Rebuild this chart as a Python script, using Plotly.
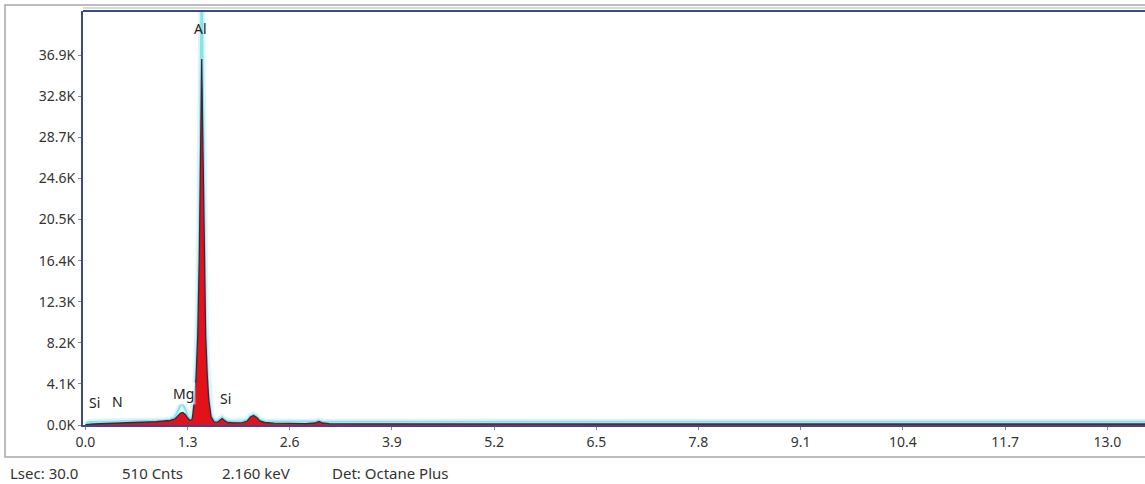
import plotly.graph_objects as go

# ---- data ----
energies = [0.0, 0.03, 0.06, 0.1, 0.2, 0.3, 0.4, 0.5, 0.6, 0.7, 0.8, 0.9, 1.0, 1.08, 1.14, 1.18, 1.21, 1.24, 1.27, 1.30,
            1.33, 1.36, 1.39, 1.41, 1.43, 1.45, 1.465, 1.48, 1.495, 1.51, 1.53, 1.55, 1.57, 1.60, 1.64, 1.68, 1.71, 1.74,
            1.77, 1.81, 1.9, 2.0, 2.06, 2.1, 2.14, 2.18, 2.22, 2.28, 2.4, 2.6, 2.8, 2.92, 2.97, 3.02, 3.1, 3.5, 4.0, 5.0,
            6.0, 7.0, 8.0, 9.0, 10.0, 11.0, 12.0, 13.0, 13.6]
spectrum_counts = [0, 60, 90, 100, 120, 150, 170, 200, 230, 260, 300, 340, 380, 450, 600, 900, 1200, 1250, 1050, 700,
                   450, 600, 2500, 5000, 9000, 17000, 28000, 36500, 28000, 17000, 9000, 5000, 2500, 800, 300, 280, 450,
                   650, 450, 250, 220, 230, 400, 800, 950, 750, 400, 250, 180, 150, 140, 200, 350, 200, 130, 120, 110,
                   100, 100, 100, 100, 100, 100, 100, 100, 100, 100]
overlay_counts = [0, 250, 300, 320, 320, 330, 340, 350, 360, 380, 400, 440, 480, 560, 800, 1400, 1950, 2050, 1600, 900,
                  650, 750, 3000, 6000, 11000, 21000, 34000, 45000, 34000, 21000, 11000, 6000, 3000, 1000, 450, 420, 560,
                  760, 560, 400, 360, 370, 520, 900, 1050, 850, 520, 380, 340, 330, 330, 360, 450, 360, 330, 330, 330,
                  330, 330, 330, 330, 330, 330, 330, 330, 330, 330]

x_tick_vals = [0.0, 1.3, 2.6, 3.9, 5.2, 6.5, 7.8, 9.1, 10.4, 11.7, 13.0]
x_tick_text = ["0.0", "1.3", "2.6", "3.9", "5.2", "6.5", "7.8", "9.1", "10.4", "11.7", "13.0"]
y_tick_vals = [0, 4100, 8200, 12300, 16400, 20500, 24600, 28700, 32800, 36900]
y_tick_text = ["0.0K", "4.1K", "8.2K", "12.3K", "16.4K", "20.5K", "24.6K", "28.7K", "32.8K", "36.9K"]

peak_labels = ["Al", "Mg", "Si", "N", "Si"]
peak_label_x = [1.47, 1.25, 0.12, 0.41, 1.78]
peak_label_y = [39600, 3100, 2200, 2300, 2600]

status_texts = ["Lsec: 30.0", "510 Cnts", "2.160 keV", "Det: Octane Plus"]
status_x_px = [8, 120, 220, 330]

FONT = "Noto Sans"
W, H = 1145, 484
L, R, T, B = 83, 0, 11, 59
pw, ph = W - L - R, H - T - B

fig = go.Figure()
# cyan glow + line (drawn underneath)
fig.add_trace(go.Scatter(x=energies, y=overlay_counts, mode="lines",
                         line=dict(color="rgba(150,230,240,0.35)", width=6), hoverinfo="skip", showlegend=False))
fig.add_trace(go.Scatter(x=energies, y=overlay_counts, mode="lines",
                         line=dict(color="#86e3ea", width=2), showlegend=False))
# red filled spectrum
fig.add_trace(go.Scatter(x=energies, y=spectrum_counts, mode="lines", fill="tozeroy",
                         fillcolor="#e2121b", line=dict(color="#4a2038", width=1.3), showlegend=False))

ann = []
for t, xx, yy in zip(peak_labels, peak_label_x, peak_label_y):
    ann.append(dict(x=xx, y=yy, xref="x", yref="y", text=t, showarrow=False,
                    font=dict(family=FONT, size=14, color="#222"),
                    bgcolor="rgba(255,255,255,0.6)" if t == "Mg" else None))
for t, px in zip(status_texts, status_x_px):
    ann.append(dict(x=(px - L) / pw, y=(H - B - 473) / ph, xref="paper", yref="paper", text=t,
                    showarrow=False, xanchor="left", yanchor="middle",
                    font=dict(family=FONT, size=15, color="#333")))

shapes = [
    # outer gray frame
    dict(type="rect", xref="paper", yref="paper", x0=(5 - L) / pw, x1=1.02,
         y0=(H - B - 457) / ph, y1=(H - B - 5) / ph, line=dict(color="#a8a8a8", width=1.5), layer="below"),
    # top border lines
    dict(type="line", xref="paper", yref="paper", x0=0, x1=1.02, y0=1.0, y1=1.0,
         line=dict(color="#3c4a8c", width=2)),
    dict(type="line", xref="paper", yref="paper", x0=0, x1=1.02, y0=(H - B - 8) / ph, y1=(H - B - 8) / ph,
         line=dict(color="#b0b4c8", width=1)),
]

fig.update_layout(
    width=W, height=H, margin=dict(l=L, r=R, t=T, b=B),
    paper_bgcolor="white", plot_bgcolor="white",
    font=dict(family=FONT, size=14, color="#333"),
    xaxis=dict(range=[-0.03, 13.48], tickvals=x_tick_vals, ticktext=x_tick_text, showgrid=False, zeroline=False,
               showline=True, linecolor="#3c4a8c", linewidth=2, ticks="outside", ticklen=3, tickcolor="#888",
               tickfont=dict(family=FONT, size=14, color="#333")),
    yaxis=dict(range=[0, 41300], tickvals=y_tick_vals, ticktext=y_tick_text, showgrid=False, zeroline=False,
               showline=True, linecolor="#3c4a8c", linewidth=2, ticks="outside", ticklen=3, tickcolor="#888",
               tickfont=dict(family=FONT, size=14, color="#333")),
    annotations=ann, shapes=shapes,
)
fig.write_html("out.html", config={"displayModeBar": False},
               post_script="document.body.style.margin='0';document.body.style.overflow='hidden';")
